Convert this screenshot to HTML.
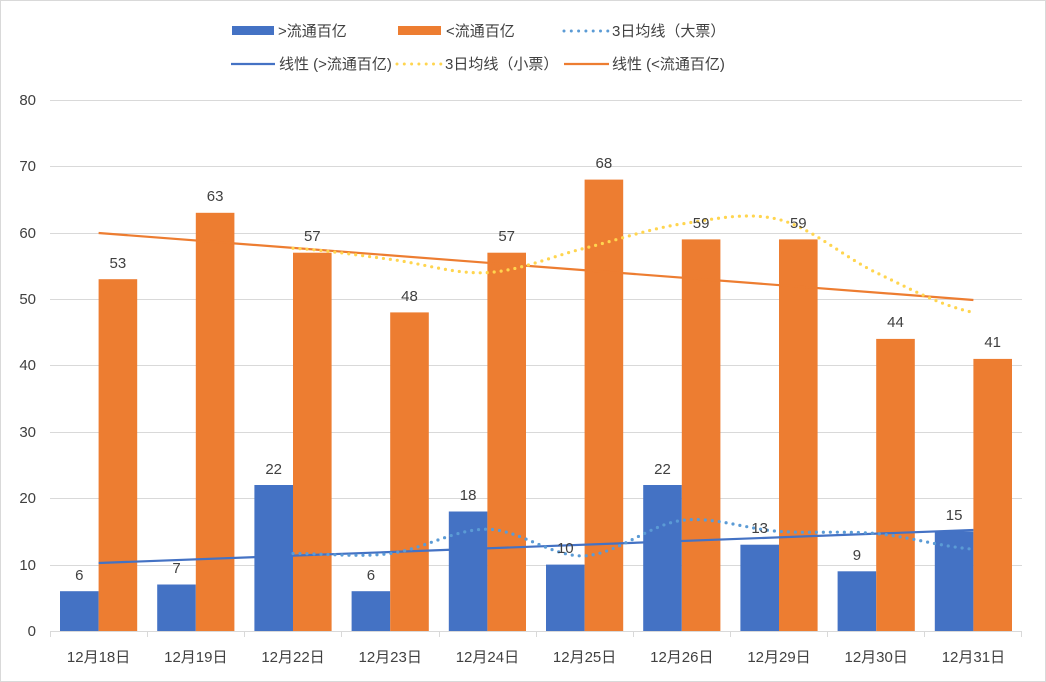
<!DOCTYPE html>
<html><head><meta charset="utf-8"><style>
body{margin:0;background:#fff}
svg{display:block;font-family:"Liberation Sans","Noto Sans CJK SC",sans-serif}
</style></head><body>
<svg width="1046" height="682" viewBox="0 0 1046 682" xmlns="http://www.w3.org/2000/svg">
<rect x="0.5" y="0.5" width="1045" height="681" fill="#fff" stroke="#d9d9d9"/>
<g stroke="#d9d9d9" stroke-width="1">
<line x1="50" x2="1022" y1="100.5" y2="100.5"/>
<line x1="50" x2="1022" y1="166.5" y2="166.5"/>
<line x1="50" x2="1022" y1="233.5" y2="233.5"/>
<line x1="50" x2="1022" y1="299.5" y2="299.5"/>
<line x1="50" x2="1022" y1="365.5" y2="365.5"/>
<line x1="50" x2="1022" y1="432.5" y2="432.5"/>
<line x1="50" x2="1022" y1="498.5" y2="498.5"/>
<line x1="50" x2="1022" y1="565.5" y2="565.5"/>
<line x1="50" x2="1022" y1="631.5" y2="631.5"/>
</g>
<g font-size="15" fill="#404040" text-anchor="end">
<text x="36" y="105">80</text><text x="36" y="171">70</text><text x="36" y="238">60</text>
<text x="36" y="304">50</text><text x="36" y="370">40</text><text x="36" y="437">30</text>
<text x="36" y="503">20</text><text x="36" y="570">10</text><text x="36" y="636">0</text>
</g>
<g fill="#4472c4">
<rect x="60" y="591.2" width="38.6" height="39.8"/>
<rect x="157.2" y="584.5" width="38.6" height="46.5"/>
<rect x="254.4" y="485" width="38.6" height="146"/>
<rect x="351.6" y="591.2" width="38.6" height="39.8"/>
<rect x="448.8" y="511.5" width="38.6" height="119.5"/>
<rect x="546" y="564.6" width="38.6" height="66.4"/>
<rect x="643.2" y="485" width="38.6" height="146"/>
<rect x="740.4" y="544.7" width="38.6" height="86.3"/>
<rect x="837.6" y="571.3" width="38.6" height="59.7"/>
<rect x="934.8" y="531.4" width="38.6" height="99.6"/>
</g>
<g fill="#ed7d31">
<rect x="98.6" y="279.2" width="38.6" height="351.8"/>
<rect x="195.8" y="212.8" width="38.6" height="418.2"/>
<rect x="293" y="252.7" width="38.6" height="378.3"/>
<rect x="390.2" y="312.4" width="38.6" height="318.6"/>
<rect x="487.4" y="252.7" width="38.6" height="378.3"/>
<rect x="584.6" y="179.6" width="38.6" height="451.4"/>
<rect x="681.8" y="239.4" width="38.6" height="391.6"/>
<rect x="779" y="239.4" width="38.6" height="391.6"/>
<rect x="876.2" y="338.9" width="38.6" height="292.1"/>
<rect x="973.4" y="358.9" width="38.6" height="272.1"/>
</g>
<line x1="50" x2="1022" y1="631.5" y2="631.5" stroke="#d9d9d9"/>
<g stroke="#d9d9d9"><line x1="50.5" x2="50.5" y1="631" y2="637"/><line x1="147.5" x2="147.5" y1="631" y2="637"/><line x1="244.5" x2="244.5" y1="631" y2="637"/><line x1="341.5" x2="341.5" y1="631" y2="637"/><line x1="439.5" x2="439.5" y1="631" y2="637"/><line x1="536.5" x2="536.5" y1="631" y2="637"/><line x1="633.5" x2="633.5" y1="631" y2="637"/><line x1="730.5" x2="730.5" y1="631" y2="637"/><line x1="827.5" x2="827.5" y1="631" y2="637"/><line x1="924.5" x2="924.5" y1="631" y2="637"/><line x1="1021.5" x2="1021.5" y1="631" y2="637"/></g>
<line x1="98.6" y1="563" x2="973.4" y2="530" stroke="#4472c4" stroke-width="2.2"/>
<line x1="98.6" y1="233" x2="973.4" y2="300" stroke="#ed7d31" stroke-width="2.2"/>
<path d="M293,553.5 C325.4,553.5 358,557.55 390.2,553.5 C422.6,549.45 455,528.8 487.4,529.2 C519.8,529.6 552.2,557.3 584.6,555.8 C617,554.3 649.4,524.5 681.8,520.4 C714.2,516.3 746.6,529.2 779,531.4 C811.4,533.6 843.8,530.6 876.2,533.6 C908.6,536.6 941,546.6 973.4,549.2" fill="none" stroke="#5b9bd5" stroke-width="3.2" stroke-linecap="round" stroke-dasharray="0 7"/>
<path d="M293,248.2 C325.4,250.05 358,255.2 390.2,259.3 C422.6,263.4 455,274.45 487.4,272.6 C519.8,270.75 552.2,256.3 584.6,248.2 C617,240.1 649.4,228.7 681.8,223.9 C714.2,219.1 746.6,211.4 779,219.5 C811.4,227.6 843.8,257.1 876.2,272.6 C908.6,288.1 941,305.8 973.4,312.4" fill="none" stroke="#ffd54f" stroke-width="3.2" stroke-linecap="round" stroke-dasharray="0 7"/>
<g font-size="15" fill="#404040" text-anchor="middle">
<text x="79.3" y="580">6</text><text x="176.5" y="573">7</text><text x="273.7" y="474">22</text><text x="370.9" y="580">6</text><text x="468.1" y="500">18</text><text x="565.3" y="553">10</text><text x="662.5" y="474">22</text><text x="759.7" y="533">13</text><text x="856.9" y="560">9</text><text x="954.1" y="520">15</text>
<text x="117.9" y="268">53</text><text x="215.1" y="201">63</text><text x="312.3" y="241">57</text><text x="409.5" y="301">48</text><text x="506.7" y="241">57</text><text x="603.9" y="168">68</text><text x="701.1" y="228">59</text><text x="798.3" y="228">59</text><text x="895.5" y="327">44</text><text x="992.7" y="347">41</text>
</g>
<g font-size="15" fill="#404040" text-anchor="middle">
<text x="98.6" y="662">12月18日</text><text x="195.8" y="662">12月19日</text><text x="293" y="662">12月22日</text><text x="390.2" y="662">12月23日</text><text x="487.4" y="662">12月24日</text><text x="584.6" y="662">12月25日</text><text x="681.8" y="662">12月26日</text><text x="779" y="662">12月29日</text><text x="876.2" y="662">12月30日</text><text x="973.4" y="662">12月31日</text>
</g>
<g font-size="15" fill="#404040">
<rect x="232" y="26" width="42" height="9" fill="#4472c4"/><text x="278" y="36">&gt;流通百亿</text>
<rect x="398" y="26" width="43" height="9" fill="#ed7d31"/><text x="446" y="36">&lt;流通百亿</text>
<line x1="564" x2="608" y1="31" y2="31" stroke="#5b9bd5" stroke-width="3" stroke-linecap="round" stroke-dasharray="0 7.3"/><text x="612" y="36">3日均线（大票）</text>
<line x1="231" x2="275" y1="64" y2="64" stroke="#4472c4" stroke-width="2.2"/><text x="279" y="69">线性 (&gt;流通百亿)</text>
<line x1="397" x2="442" y1="64" y2="64" stroke="#ffd54f" stroke-width="3" stroke-linecap="round" stroke-dasharray="0 7.3"/><text x="445" y="69">3日均线（小票）</text>
<line x1="564" x2="609" y1="64" y2="64" stroke="#ed7d31" stroke-width="2.2"/><text x="612" y="69">线性 (&lt;流通百亿)</text>
</g>
</svg>
</body></html>
